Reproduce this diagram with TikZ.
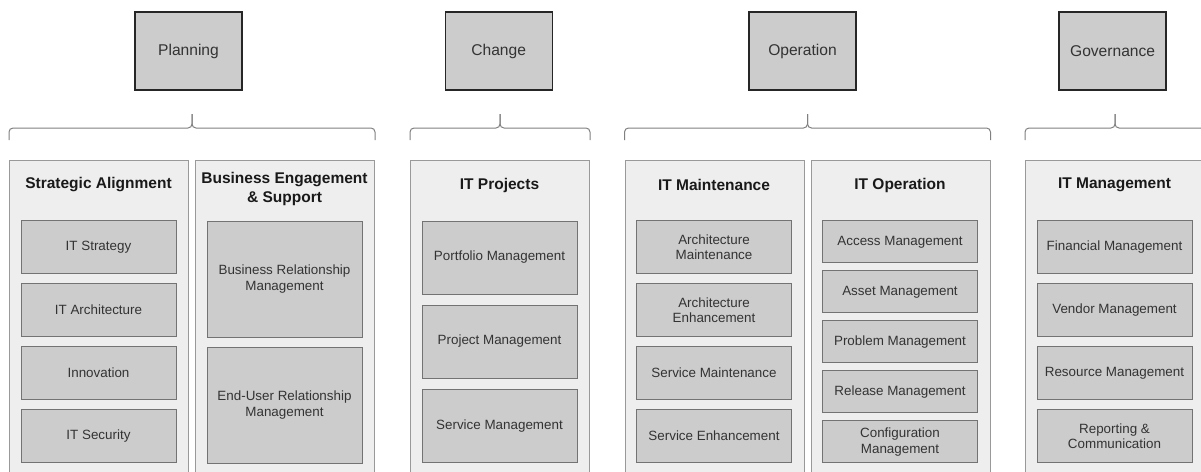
\documentclass[tikz,border=0pt]{standalone}
\usepackage{fontspec}
\setmainfont{Liberation Sans}
\usetikzlibrary{calc}

\definecolor{boxgray}{HTML}{CCCCCC}
\definecolor{panelgray}{HTML}{EEEEEE}

\tikzset{
  phase/.style={draw=black!85, line width=1.4pt, fill=boxgray, minimum width=107pt,
    minimum height=78pt, font=\fontsize{15.6}{18}\selectfont, text=black!80},
  panel/.style={draw=black!40, line width=1pt, fill=panelgray, anchor=north west,
    minimum width=179pt, minimum height=330pt, inner sep=0pt},
  paneltitle/.style={font=\fontsize{15.5}{19}\selectfont\bfseries, align=center, text=black!90},
  item/.style={draw=black!55, line width=1pt, fill=boxgray, minimum width=155pt,
    minimum height=#1, inner sep=2pt, align=center,
    font=\fontsize{13.4}{15.5}\selectfont, text=black!80},
  brace/.style={draw=black!50, line width=1pt, rounded corners=4pt},
}

\begin{document}
\begin{tikzpicture}[x=1pt, y=-1pt]
  \useasboundingbox (0,0) rectangle (1201,471);
  \clip (0,0) rectangle (1201,471);

  % phases
  \node[phase] (plan) at (188.5,51) {Planning};
  \node[phase] (chg) at (498.7,51) {Change};
  \node[phase] (op) at (802.5,51) {Operation};
  \node[phase] (gov) at (1112.6,51) {Governance};

  % panels
  \node[panel] (sa) at (9,160) {};
  \node[panel] (bes) at (195,160) {};
  \node[panel] (itp) at (410,160) {};
  \node[panel] (itm) at (624.5,160) {};
  \node[panel] (ito) at (810.5,160) {};
  \node[panel] (itg) at (1025,160) {};

  % braces over the panels
  \draw[brace] ([yshift=20pt]sa.north west) |- ([yshift=32pt]$(sa.north west)!0.5!(bes.north east)$) -- ++(0,-14);
  \draw[brace] ([yshift=20pt]bes.north east) |- ([yshift=32pt]$(sa.north west)!0.5!(bes.north east)$) -- ++(0,-14);
  \draw[brace] ([yshift=20pt]itp.north west) |- ([yshift=32pt]itp.north) -- ++(0,-14);
  \draw[brace] ([yshift=20pt]itp.north east) |- ([yshift=32pt]itp.north) -- ++(0,-14);
  \draw[brace] ([yshift=20pt]itm.north west) |- ([yshift=32pt]$(itm.north west)!0.5!(ito.north east)$) -- ++(0,-14);
  \draw[brace] ([yshift=20pt]ito.north east) |- ([yshift=32pt]$(itm.north west)!0.5!(ito.north east)$) -- ++(0,-14);
  \draw[brace] ([yshift=20pt]itg.north west) |- ([yshift=32pt]itg.north) -- ++(0,-14);
  \draw[brace] ([yshift=20pt]itg.north east) |- ([yshift=32pt]itg.north) -- ++(0,-14);

  % titles
  \node[paneltitle] (sa-t) at (98.5,185) {Strategic Alignment};
  \node[paneltitle] (bes-t) at (284.5,188.5) {Business Engagement\\\& Support};
  \node[paneltitle] (itp-t) at (499.5,185) {IT Projects};
  \node[paneltitle] (itm-t) at (714,185) {IT Maintenance};
  \node[paneltitle] (ito-t) at (900,185) {IT Operation};
  \node[paneltitle] (itg-t) at (1114.5,185) {IT Management};

  % strategic alignment
  \node[item=53pt] (sa1) at (98.5,247) {IT Strategy};
  \node[item=53pt] (sa2) at (98.5,310) {IT Architecture};
  \node[item=53pt] (sa3) at (98.5,373) {Innovation};
  \node[item=53pt] (sa4) at (98.5,436) {IT Security};

  % business engagement
  \node[item=116pt] (bes1) at (284.5,279) {Business Relationship\\Management};
  \node[item=116pt] (bes2) at (284.5,405) {End-User Relationship\\Management};

  % it projects
  \node[item=73pt] (itp1) at (499.5,257.5) {Portfolio Management};
  \node[item=73pt] (itp2) at (499.5,341.5) {Project Management};
  \node[item=73pt] (itp3) at (499.5,426) {Service Management};

  % it maintenance
  \node[item=53pt] (itm1) at (714,247) {Architecture\\Maintenance};
  \node[item=53pt] (itm2) at (714,310) {Architecture\\Enhancement};
  \node[item=53pt] (itm3) at (714,373) {Service Maintenance};
  \node[item=53pt] (itm4) at (714,436) {Service Enhancement};

  % it operation
  \node[item=42pt] (ito1) at (900,241.8) {Access Management};
  \node[item=42pt] (ito2) at (900,291.8) {Asset Management};
  \node[item=42pt] (ito3) at (900,341.8) {Problem Management};
  \node[item=42pt] (ito4) at (900,391.8) {Release Management};
  \node[item=42pt] (ito5) at (900,441.8) {Configuration\\Management};

  % it management
  \node[item=53pt] (itg1) at (1114.5,247) {Financial Management};
  \node[item=53pt] (itg2) at (1114.5,310) {Vendor Management};
  \node[item=53pt] (itg3) at (1114.5,373) {Resource Management};
  \node[item=53pt] (itg4) at (1114.5,436) {Reporting \&\\Communication};
\end{tikzpicture}
\end{document}
